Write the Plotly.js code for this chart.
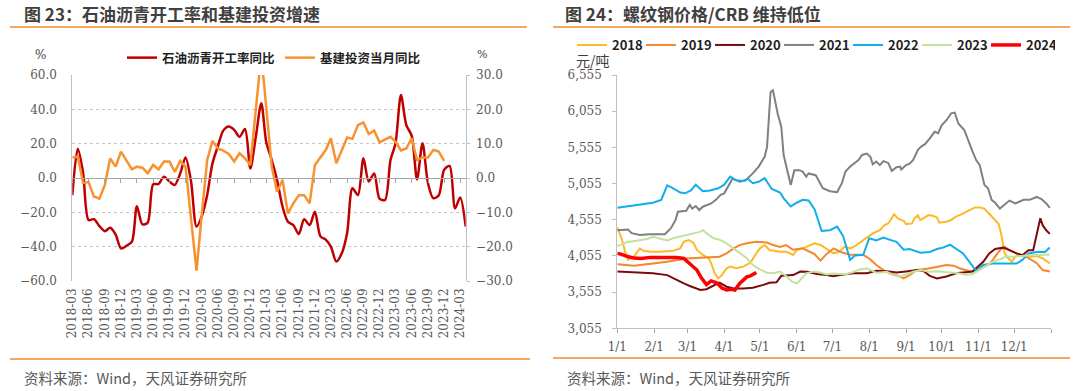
<!DOCTYPE html>
<html><head><meta charset="utf-8">
<script src="https://cdn.plot.ly/plotly-3.0.1.min.js"></script>
<style>html,body{margin:0;padding:0;background:#fff;}#chart{width:1080px;height:391px;}</style>
</head><body><div id="chart"></div>
<script>
// ---------- Left chart data (monthly) ----------
const months = ['2018-03','2018-04','2018-05','2018-06','2018-07','2018-08','2018-09','2018-10','2018-11','2018-12',
'2019-01','2019-02','2019-03','2019-04','2019-05','2019-06','2019-07','2019-08','2019-09','2019-10','2019-11','2019-12',
'2020-01','2020-02','2020-03','2020-04','2020-05','2020-06','2020-07','2020-08','2020-09','2020-10','2020-11','2020-12',
'2021-01','2021-02','2021-03','2021-04','2021-05','2021-06','2021-07','2021-08','2021-09','2021-10','2021-11','2021-12',
'2022-01','2022-02','2022-03','2022-04','2022-05','2022-06','2022-07','2022-08','2022-09','2022-10','2022-11','2022-12',
'2023-01','2023-02','2023-03','2023-04','2023-05','2023-06','2023-07','2023-08','2023-09','2023-10','2023-11','2023-12',
'2024-01','2024-02','2024-03','2024-04'];
const asphaltYoY = [-10,17,3,-24.5,-24,-28,-31,-29,-33,-41,
-39.5,-37,-16.5,-27,-26,-3.7,-3.5,0.8,-2.1,-4,
2.7,12,-2,-28.3,-22.5,-10,8.5,18.6,27.6,30,
28,24,28.5,5.6,24,43.5,21,10.5,-1.2,-16.7,
-25.4,-27.4,-32.6,-24,-27.4,-19.6,-34,-36,-40,-48.7,
-44,-32,-6,-10,11.5,-2,2.7,-12,-12.8,10.5,
20,48.3,31,24.5,-0.8,20.2,-3.1,-11.8,-10,4.7,
7,-17.7,-11.3,-28.3];
const infraYoY = [6,6.2,-1.5,-1.2,-5.4,-6,-2,5.7,3.3,7.7,
null,2.5,3.3,3,1.4,3.8,2.5,4.8,4.8,1.8,
5,3.3,null,-27,-11,5.2,10.8,8.6,8,7,
4.8,7.2,5.7,3.8,null,36,20,3.3,-4,-0.6,
-10.3,-7.4,-5,-5,-7.4,3.8,null,8.2,11.6,4.3,
8.2,11.8,11.4,15.4,16.2,12.8,13.8,10.4,null,12,
10.6,8,8.6,11.6,5.2,6,6,8.2,7.7,5,
null,null,null,null];
const leftTicks = ['2018-03','2018-06','2018-09','2018-12','2019-03','2019-06','2019-09','2019-12',
'2020-03','2020-06','2020-09','2020-12','2021-03','2021-06','2021-09','2021-12','2022-03','2022-06',
'2022-09','2022-12','2023-03','2023-06','2023-09','2023-12','2024-03'];

// ---------- Right chart data: [day of year, price 元/吨] ----------
const s2018 = [[0,4450],[4,4275],[7,4090],[9,4000],[14,4045],[19,4160],[22,4127],[28,4114],[36,4114],[47,4127],[53,4160],[56,4252],[60,4275],[64,4238],[67,4137],[72,4068],[77,4022],[79,3953],[82,3815],[85,3745],[88,3791],[92,3884],[95,3907],[100,3884],[106,3907],[112,3962],[117,4091],[120,4160],[124,4206],[128,4137],[137,4114],[142,4114],[148,4068],[151,4137],[156,4160],[162,4206],[166,4229],[171,4206],[175,4160],[179,4114],[182,4091],[187,4114],[191,4180],[196,4160],[201,4200],[207,4274],[211,4320],[215,4366],[221,4412],[225,4481],[228,4504],[231,4574],[233,4633],[236,4574],[241,4541],[243,4495],[248,4504],[250,4574],[253,4615],[255,4551],[259,4597],[262,4620],[266,4606],[269,4587],[271,4514],[277,4528],[281,4551],[285,4597],[290,4633],[294,4666],[298,4698],[301,4725],[306,4725],[309,4707],[314,4620],[318,4551],[321,4495],[323,4366],[324,4275],[326,4091],[329,4022],[332,3976],[335,4045],[339,4068],[347,4045],[353,4054],[358,4022],[364,3953]];
const s2019 = [[0,3940],[14,3920],[30,3950],[42,3975],[58,4020],[70,4035],[86,4045],[92,4090],[98,4160],[103,4205],[109,4230],[117,4250],[126,4240],[131,4205],[137,4180],[142,4205],[148,4140],[156,4160],[162,4110],[166,4080],[171,3990],[176,4080],[182,4160],[188,4110],[196,4070],[207,4070],[212,4020],[218,3930],[224,3860],[229,3815],[235,3790],[241,3745],[246,3790],[252,3860],[262,3880],[271,3915],[277,3930],[283,3920],[288,3885],[297,3840],[305,3870],[314,3955],[322,4135],[326,4180],[330,4135],[336,4090],[344,4045],[353,3955],[358,3860],[364,3840]];
const s2020 = [[0,3840],[14,3830],[30,3815],[42,3790],[50,3720],[56,3675],[61,3640],[70,3585],[75,3595],[81,3650],[86,3685],[92,3630],[98,3605],[106,3605],[114,3615],[123,3655],[128,3685],[134,3690],[138,3780],[148,3790],[154,3840],[160,3835],[168,3805],[176,3790],[182,3775],[187,3790],[199,3815],[210,3815],[218,3850],[227,3845],[235,3825],[243,3840],[252,3860],[258,3845],[263,3780],[269,3745],[277,3770],[285,3815],[294,3825],[299,3840],[308,3975],[313,4090],[318,4150],[325,4170],[330,4135],[336,4090],[341,4065],[346,4135],[350,4135],[353,4370],[356,4575],[358,4480],[361,4410],[364,4360]];
const s2021 = [[0,4410],[9,4420],[12,4370],[19,4345],[27,4355],[40,4355],[45,4435],[49,4550],[51,4665],[58,4680],[61,4760],[63,4710],[66,4745],[69,4690],[72,4735],[79,4780],[83,4830],[87,4900],[90,4920],[94,5035],[97,5125],[103,5080],[108,5100],[114,5195],[119,5290],[124,5425],[126,5560],[128,6070],[129,6320],[131,6345],[132,6250],[135,6020],[138,5840],[140,5450],[143,5240],[146,5035],[149,5240],[153,5240],[156,5220],[159,5150],[161,5195],[167,5170],[170,5080],[173,4990],[179,4950],[185,4935],[189,5060],[192,5220],[196,5290],[200,5340],[203,5380],[206,5450],[210,5470],[213,5425],[215,5320],[218,5360],[221,5310],[224,5365],[228,5340],[231,5230],[235,5280],[238,5290],[239,5250],[243,5310],[246,5330],[249,5380],[253,5520],[256,5570],[259,5600],[263,5680],[267,5770],[270,5750],[273,5860],[277,5930],[281,6025],[284,6035],[287,5885],[292,5795],[295,5655],[299,5495],[302,5380],[305,5310],[309,5035],[312,4990],[315,4830],[318,4790],[322,4710],[326,4760],[330,4820],[335,4780],[342,4830],[347,4830],[353,4870],[357,4840],[361,4780],[364,4720]];
const s2022 = [[0,4720],[10,4740],[20,4770],[30,4790],[37,4830],[42,5030],[46,5000],[53,4930],[57,4920],[62,4960],[66,5040],[72,4950],[78,4960],[85,4990],[90,5040],[95,5150],[100,5100],[106,5090],[110,5120],[114,5060],[119,5080],[124,5130],[130,4980],[137,4930],[140,4850],[146,4740],[151,4790],[156,4830],[161,4820],[166,4700],[172,4400],[179,4410],[185,4460],[190,4330],[196,4000],[200,4060],[207,4070],[212,4300],[218,4270],[224,4310],[229,4280],[235,4250],[241,4140],[246,4150],[255,4100],[263,4110],[269,4150],[274,4170],[280,4210],[283,4180],[291,4090],[302,3850],[308,3930],[316,3950],[325,3950],[336,3950],[341,4000],[346,4090],[353,4110],[360,4110],[364,4170]];
const s2023 = [[0,4190],[8,4245],[16,4265],[25,4290],[30,4320],[35,4300],[42,4270],[47,4300],[53,4325],[58,4344],[64,4365],[70,4390],[72,4413],[75,4370],[81,4298],[86,4280],[92,4229],[98,4160],[103,4091],[109,4022],[114,3930],[120,3870],[126,3824],[131,3815],[137,3838],[142,3778],[147,3700],[151,3676],[154,3722],[159,3815],[165,3840],[170,3830],[176,3800],[182,3812],[187,3805],[193,3805],[198,3830],[204,3869],[210,3883],[218,3823],[227,3837],[232,3791],[238,3768],[243,3800],[249,3837],[255,3860],[263,3837],[269,3845],[277,3837],[283,3823],[288,3814],[294,3791],[299,3805],[305,3869],[311,3929],[316,3975],[322,4007],[327,4044],[333,4044],[339,4053],[344,4053],[350,4067],[356,4067],[364,4076]];
const s2024 = [[0,4090],[3,4080],[8,4050],[14,4025],[20,4020],[28,4035],[36,4035],[50,4035],[56,4020],[61,3950],[67,3860],[71,3745],[75,3660],[79,3710],[84,3680],[88,3610],[92,3585],[96,3595],[99,3585],[103,3675],[106,3720],[109,3765],[112,3780],[116,3815],[117,3825]];
const yearNames = ['2018','2019','2020','2021','2022','2023','2024'];
const rightTickDates = ['2001-01-01','2001-02-01','2001-03-01','2001-04-01','2001-05-01','2001-06-01','2001-07-01','2001-08-01','2001-09-01','2001-10-01','2001-11-01','2001-12-01','2002-01-01'];
const rightTickText = ['1/1','2/1','3/1','4/1','5/1','6/1','7/1','8/1','9/1','10/1','11/1','12/1',''];

// ---------- helpers ----------
const W = 1080, H = 391;
const px = v => v / W, py = v => 1 - v / H;
const toDate = d => new Date(Date.UTC(2001, 0, 1 + d)).toISOString().slice(0, 10);
const axFont = {family: 'DejaVu Serif', size: 12, color: '#595959'};
const cjk = 'Noto Sans CJK SC';

const seriesList = [s2018, s2019, s2020, s2021, s2022, s2023, s2024];
const yearColors = ['#FDB927', '#F5862C', '#7B0A0A', '#808080', '#12AEEB', '#C4E29E', '#FF0000'];
const yearWidths = [2, 2, 2, 2, 2, 2, 3.5];

const traces = [
  {x: months, y: asphaltYoY, name: '石油沥青开工率同比', type: 'scatter', mode: 'lines',
   line: {color: '#C00000', width: 2.5, shape: 'spline', smoothing: 0.8}, xaxis: 'x', yaxis: 'y', legend: 'legend'},
  {x: months, y: infraYoY, name: '基建投资当月同比', type: 'scatter', mode: 'lines', connectgaps: true,
   line: {color: '#F7922E', width: 2.5}, xaxis: 'x', yaxis: 'y2', legend: 'legend'},
  {x: months, y: asphaltYoY, type: 'scatter', mode: 'lines', line: {color: 'rgba(0,0,0,0)', width: 0},
   xaxis: 'x2', yaxis: 'y', showlegend: false, hoverinfo: 'skip'}
];
seriesList.forEach((s, i) => {
  traces.push({x: s.map(p => toDate(p[0])), y: s.map(p => p[1]), name: yearNames[i], type: 'scatter', mode: 'lines',
    line: {color: yearColors[i], width: yearWidths[i]}, xaxis: 'x3', yaxis: 'y3', legend: 'legend2'});
});

const layout = {
  width: W, height: H, margin: {l: 0, r: 0, t: 0, b: 0},
  paper_bgcolor: '#ffffff', plot_bgcolor: 'rgba(0,0,0,0)', showlegend: true,
  xaxis: {domain: [px(72.3), px(465.7)], anchor: 'y', type: 'date', range: ['2018-03-01', '2024-04-01'],
    tickmode: 'array', tickvals: leftTicks, ticktext: leftTicks, tickangle: -90, tickfont: axFont,
    showgrid: false, showline: false, zeroline: false, ticks: '', ticklabelstandoff: 4},
  xaxis2: {overlaying: 'x', anchor: 'free', position: py(178), type: 'date', range: ['2018-03-01', '2024-04-01'],
    tickmode: 'array', tickvals: leftTicks, showticklabels: false, ticks: 'outside', ticklen: 4, tickcolor: '#A6A6A6',
    showline: true, linecolor: '#A6A6A6', linewidth: 1, showgrid: false, zeroline: false},
  yaxis: {domain: [py(281), py(75)], anchor: 'x', range: [-60, 60], tick0: 0, dtick: 20, tickformat: '.1f',
    showgrid: true, gridcolor: '#C6C6C6', griddash: 'dot', gridwidth: 1, zeroline: false,
    showline: true, linecolor: '#BFBFBF', ticks: '', tickfont: axFont, ticklabelstandoff: 12},
  yaxis2: {overlaying: 'y', side: 'right', anchor: 'x', range: [-30, 30], tick0: 0, dtick: 10, tickformat: '.1f',
    showgrid: false, zeroline: false, showline: true, linecolor: '#BFBFBF', ticks: 'outside', ticklen: 3,
    tickcolor: '#BFBFBF', tickfont: axFont, ticklabelstandoff: 4},
  xaxis3: {domain: [px(617.3), px(1051)], anchor: 'y3', type: 'date', range: ['2001-01-01', '2002-01-01'],
    tickmode: 'array', tickvals: rightTickDates, ticktext: rightTickText, ticks: 'outside', ticklen: 4,
    tickcolor: '#A6A6A6', showline: true, linecolor: '#BFBFBF', showgrid: false, zeroline: false, tickfont: axFont,
    ticklabelstandoff: 3},
  yaxis3: {domain: [py(328.3), py(75)], anchor: 'x3', range: [3055, 6555], tick0: 3055, dtick: 500, tickformat: ',d',
    showgrid: false, zeroline: false, showline: true, linecolor: '#BFBFBF', ticks: 'outside', ticklen: 4,
    tickcolor: '#BFBFBF', tickfont: axFont, ticklabelstandoff: 8},
  legend: {orientation: 'h', x: px(122), xanchor: 'left', y: py(58), yanchor: 'middle', bgcolor: 'rgba(0,0,0,0)',
    font: {family: cjk, size: 12.5, color: '#1F1F1F', weight: 'bold'}, entrywidth: 113, entrywidthmode: 'pixels',
    traceorder: 'normal'},
  legend2: {orientation: 'h', x: px(572), xanchor: 'left', y: py(45), yanchor: 'middle', bgcolor: 'rgba(0,0,0,0)',
    font: {family: cjk, size: 13, color: '#1F1F1F', weight: 'bold'}, entrywidth: 24, entrywidthmode: 'pixels',
    traceorder: 'normal'},
  annotations: [
    {text: '图 23：石油沥青开工率和基建投资增速', x: px(22), y: py(13), xref: 'paper', yref: 'paper', xanchor: 'left', yanchor: 'middle',
     showarrow: false, font: {family: cjk, size: 17, color: '#404040', weight: 'bold'}},
    {text: '图 24：螺纹钢价格/CRB 维持低位', x: px(563), y: py(13), xref: 'paper', yref: 'paper', xanchor: 'left', yanchor: 'middle',
     showarrow: false, font: {family: cjk, size: 17, color: '#404040', weight: 'bold'}},
    {text: '资料来源：Wind，天风证券研究所', x: px(22), y: py(377), xref: 'paper', yref: 'paper', xanchor: 'left', yanchor: 'middle',
     showarrow: false, font: {family: cjk, size: 14.5, color: '#595959'}},
    {text: '资料来源：Wind，天风证券研究所', x: px(565), y: py(377), xref: 'paper', yref: 'paper', xanchor: 'left', yanchor: 'middle',
     showarrow: false, font: {family: cjk, size: 14.5, color: '#595959'}},
    {text: '%', x: px(40), y: py(55), xref: 'paper', yref: 'paper', xanchor: 'center', yanchor: 'middle',
     showarrow: false, font: {family: 'DejaVu Serif', size: 12, color: '#404040'}},
    {text: '%', x: px(482), y: py(55), xref: 'paper', yref: 'paper', xanchor: 'center', yanchor: 'middle',
     showarrow: false, font: {family: 'DejaVu Serif', size: 11, color: '#404040'}},
    {text: '元/吨', x: px(574), y: py(60), xref: 'paper', yref: 'paper', xanchor: 'left', yanchor: 'middle',
     showarrow: false, font: {family: cjk, size: 14, color: '#404040'}}
  ],
  shapes: [
    {type: 'line', xref: 'paper', yref: 'paper', x0: px(10), x1: px(527), y0: py(27), y1: py(27), line: {color: '#F08A2C', width: 1.5}},
    {type: 'line', xref: 'paper', yref: 'paper', x0: px(10), x1: px(530), y0: py(359), y1: py(359), line: {color: '#F08A2C', width: 1.5}},
    {type: 'line', xref: 'paper', yref: 'paper', x0: px(553), x1: px(1070), y0: py(27), y1: py(27), line: {color: '#F08A2C', width: 1.5}},
    {type: 'line', xref: 'paper', yref: 'paper', x0: px(553), x1: px(1070), y0: py(358), y1: py(358), line: {color: '#F08A2C', width: 1.5}}
  ]
};

Plotly.newPlot('chart', traces, layout, {staticPlot: true, displayModeBar: false});
</script>
</body></html>
